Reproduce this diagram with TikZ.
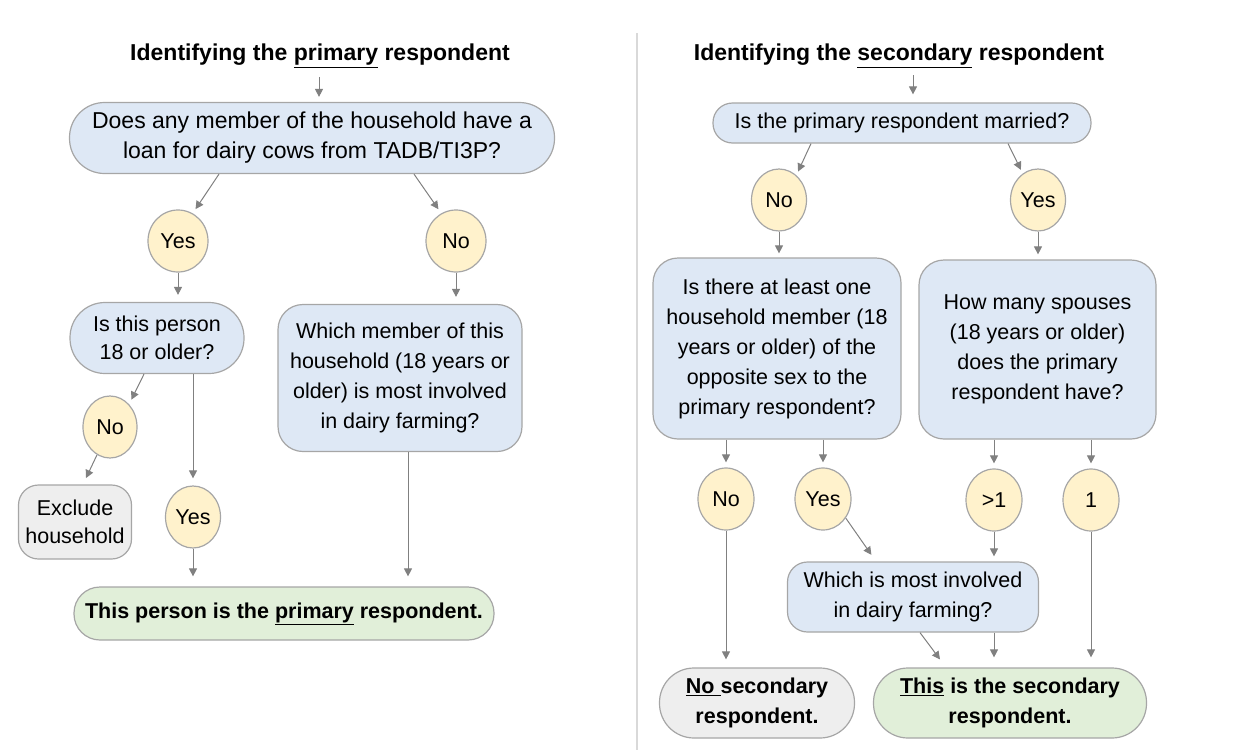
\documentclass[tikz,border=0pt]{standalone}
\usepackage{fontspec}
\setmainfont{Liberation Sans}
\usetikzlibrary{shapes.geometric,arrows.meta,calc}
\definecolor{qblue}{HTML}{DEE8F5}
\definecolor{ansyel}{HTML}{FFF2CC}
\definecolor{fingreen}{HTML}{E1EFD9}
\definecolor{exgray}{HTML}{EEEEEE}
\definecolor{bordercol}{HTML}{A6A6A6}
\definecolor{arrcol}{HTML}{808080}
\definecolor{divcol}{HTML}{D9D9D9}
\newcommand{\fsn}{\fontsize{21.5}{30}\selectfont}
\newcommand{\fsbig}{\fontsize{23}{30}\selectfont}
\tikzset{
  base/.style={draw=bordercol, line width=1.2pt, align=center, inner sep=0pt, font=\fsn, text=black},
  qbox/.style={base, fill=qblue},
  ansnode/.style={base, ellipse, fill=ansyel, minimum width=56pt, minimum height=62pt},
  finbox/.style={base, fill=fingreen, font=\fsn\bfseries},
  graybox/.style={base, fill=exgray},
  titlenode/.style={inner sep=0pt, font=\fsbig\bfseries, text height=16.5pt, text depth=0pt},
  arr/.style={draw=arrcol, line width=1pt, -{Triangle[width=8pt,length=8pt]}},
}
\begin{document}
\begin{tikzpicture}[x=1pt,y=-1pt]
\useasboundingbox (0,0) rectangle (1248,750);
% divider
\draw[divcol, line width=1.5pt] (637,33) -- (637,750);

% ---------- Left panel ----------
\node[titlenode] (t1) at (320,52.5) {Identifying the \underline{primary} respondent};
\node[qbox, font=\fsbig, minimum width=485pt, minimum height=71pt, rounded corners=35pt] (q1) at (312,138)
  {Does any member of the household have a\\loan for dairy cows from TADB/TI3P?};
\node[ansnode, minimum width=60pt] (yes1) at (178,241) {Yes};
\node[ansnode, minimum width=60pt] (no1) at (456,241) {No};
\node[qbox, minimum width=174pt, minimum height=71pt, rounded corners=35pt, font=\fontsize{21.5}{28}\selectfont] (q2) at (157,338)
  {Is this person\\18 or older?};
\node[qbox, minimum width=244pt, minimum height=147pt, rounded corners=25pt] (q3) at (400,378)
  {Which member of this\\household (18 years or\\older) is most involved\\in dairy farming?};
\node[ansnode, minimum width=54pt] (no2) at (110,427) {No};
\node[graybox, minimum width=113pt, minimum height=74pt, rounded corners=20pt, font=\fontsize{21.5}{28}\selectfont] (excl) at (75,522)
  {Exclude\\household};
\node[ansnode, minimum width=55pt] (yes2) at (193,517) {Yes};
\node[finbox, minimum width=420pt, minimum height=53pt, rounded corners=26pt] (fin1) at (284,613.5)
  {This person is the \underline{primary} respondent.};

\coordinate (t1a) at ([xshift=-1pt]t1.south);
\draw[arr, shorten <=16pt, shorten >=5pt] (t1a) -- (t1a |- q1.north);
\draw[arr, shorten >=5pt] ([xshift=-93pt]q1.south) -- (yes1.62);
\draw[arr, shorten >=5pt] ([xshift=102pt]q1.south) -- (no1.118);
\draw[arr, shorten >=7pt] (yes1.south) -- (yes1.south |- q2.north);
\draw[arr, shorten >=7pt] (no1.south) -- (no1.south |- q3.north);
\draw[arr, shorten >=5pt] ([xshift=-13pt]q2.south) -- (no2.50);
\draw[arr, shorten >=7pt] (no2.-115) -- ([xshift=8pt]excl.north);
\draw[arr, shorten >=7pt] (yes2.north |- q2.south) -- (yes2.north);
\draw[arr, shorten >=10pt] (yes2.south) -- (yes2.south |- fin1.north);
\coordinate (q3b) at ([xshift=8pt]q3.south);
\draw[arr, shorten >=10pt] (q3b) -- (q3b |- fin1.north);

% ---------- Right panel ----------
\node[titlenode] (t2) at (899,52.5) {Identifying the \underline{secondary} respondent};
\node[qbox, minimum width=378pt, minimum height=40pt, rounded corners=19.5pt] (q4) at (902,123)
  {Is the primary respondent married?};
\node[ansnode, minimum width=55pt] (no3) at (779,200) {No};
\node[ansnode, minimum width=55pt] (yes3) at (1038,200) {Yes};
\node[qbox, minimum width=248pt, minimum height=181pt, rounded corners=25pt] (q5) at (777,348.5)
  {Is there at least one\\household member (18\\years or older) of the\\opposite sex to the\\primary respondent?};
\node[qbox, minimum width=237pt, minimum height=179pt, rounded corners=25pt] (q6) at (1037.5,349.5)
  {How many spouses\\(18 years or older)\\does the primary\\respondent have?};
\node[ansnode] (no4) at (726,499) {No};
\node[ansnode] (yes4) at (823,499) {Yes};
\node[ansnode] (gt1) at (994,500) {>1};
\node[ansnode] (one) at (1091,500) {1};
\node[qbox, minimum width=251pt, minimum height=70pt, rounded corners=20pt] (which) at (913,597)
  {Which is most involved\\in dairy farming?};
\node[graybox, font=\fsn\bfseries, minimum width=195pt, minimum height=70pt, rounded corners=34.5pt] (nosec) at (757,703)
  {\underline{No\ }secondary\\respondent.};
\node[finbox, minimum width=273pt, minimum height=70pt, rounded corners=34.5pt] (thissec) at (1010,703)
  {\underline{This} is the secondary\\respondent.};

\coordinate (t2a) at (913,61);
\draw[arr, shorten <=14pt, shorten >=8pt] (t2a) -- (t2a |- q4.north);
\draw[arr, shorten >=4pt] ([xshift=-91pt]q4.south) -- (no3.55);
\draw[arr, shorten >=4pt] ([xshift=106pt]q4.south) -- (yes3.120);
\draw[arr, shorten >=4pt] (no3.south) -- (no3.south |- q5.north);
\draw[arr, shorten >=5pt] (yes3.south) -- (yes3.south |- q6.north);
\draw[arr, shorten >=5pt] (no4.north |- q5.south) -- (no4.north);
\draw[arr, shorten >=5pt] (yes4.north |- q5.south) -- (yes4.north);
\draw[arr, shorten >=5pt] (gt1.north |- q6.south) -- (gt1.north);
\draw[arr, shorten >=5pt] (one.north |- q6.south) -- (one.north);
\draw[arr, shorten >=8pt] (no4.south) -- (no4.south |- nosec.north);
\draw[arr, shorten >=8pt] (yes4.-40) -- ([xshift=-37pt]which.north);
\draw[arr, shorten >=5pt] (gt1.south) -- (gt1.south |- which.north);
\draw[arr, shorten >=10pt] ([xshift=7pt]which.south) -- ([xshift=-64pt]thissec.north);
\draw[arr, shorten >=10pt] (gt1.south |- which.south) -- (gt1.south |- thissec.north);
\draw[arr, shorten >=10pt] (one.south) -- (one.south |- thissec.north);
\end{tikzpicture}
\end{document}
